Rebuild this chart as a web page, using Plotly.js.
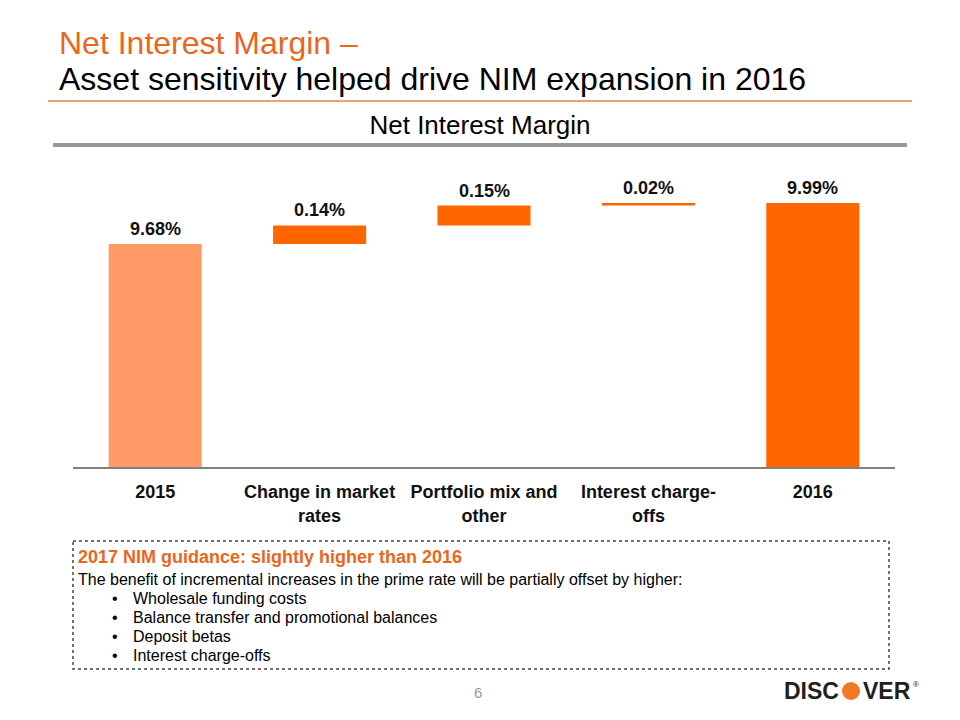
<!DOCTYPE html>
<html>
<head>
<meta charset="utf-8">
<script src="https://cdn.plot.ly/plotly-3.0.1.min.js"></script>
<style>html,body{margin:0;padding:0;background:#fff;}#chart{width:960px;height:720px;}</style>
</head>
<body>
<div id="chart"></div>
<script>
// ---- data ----
const categories = ['2015', 'Change in market<br>rates', 'Portfolio mix and<br>other', 'Interest charge-<br>offs', '2016'];
const measures = ['absolute', 'relative', 'relative', 'relative', 'total'];
const values = [9.68, 0.14, 0.15, 0.02, 9.99];
const valueLabels = ['9.68%', '0.14%', '0.15%', '0.02%', '9.99%'];
const barColors = ['#FF9966', '#FF6600', '#FF6600', '#FF6600', '#FF6600'];
const slideTitle1 = 'Net Interest Margin –';
const slideTitle2 = 'Asset sensitivity helped drive NIM expansion in 2016';
const chartTitle = 'Net Interest Margin';
const guidanceHeader = '2017 NIM guidance: slightly higher than 2016';
const guidanceIntro = 'The benefit of incremental increases in the prime rate will be partially offset by higher:';
const guidanceBullets = ['Wholesale funding costs', 'Balance transfer and promotional balances', 'Deposit betas', 'Interest charge-offs'];
const pageNumber = '6';

// ---- waterfall bases ----
const bases = [], heights = [], tops = [];
let running = 0;
values.forEach((v, i) => {
  if (measures[i] === 'relative') {
    bases.push(running); heights.push(v); running += v;
  } else {
    bases.push(0); heights.push(v); running = v;
  }
  tops.push(bases[i] + heights[i]);
});
const xs = categories.map((c, i) => i);

// ---- layout geometry (pixels) ----
const W = 960, H = 720;
const L = 73, R = 65, T = 150, B = 253;
const PW = W - L - R, PH = H - T - B;
const px = x => (x - L) / PW;
const py = y => (H - B - y) / PH;

const FONT = 'Liberation Sans, Arial, Helvetica, sans-serif';
const ORANGE_TXT = '#E8671D';

const trace = {
  type: 'bar',
  x: xs,
  y: heights,
  base: bases,
  width: 0.566,
  marker: {color: barColors, line: {width: 0}},
  hoverinfo: 'skip'
};

const annotations = [];
// value labels
xs.forEach((x, i) => {
  annotations.push({
    x: x, y: tops[i], xref: 'x', yref: 'y',
    text: valueLabels[i], showarrow: false,
    yanchor: 'bottom', yshift: 3,
    font: {family: FONT, size: 18, color: '#111', weight: 'bold'}
  });
});
// slide title lines
annotations.push({
  xref: 'paper', yref: 'paper', x: px(57), y: py(43), xanchor: 'left', yanchor: 'middle',
  text: slideTitle1, showarrow: false,
  font: {family: FONT, size: 32, color: ORANGE_TXT}
});
annotations.push({
  xref: 'paper', yref: 'paper', x: px(57), y: py(79), xanchor: 'left', yanchor: 'middle',
  text: slideTitle2, showarrow: false,
  font: {family: FONT, size: 32, color: '#000'}
});
// guidance box text
annotations.push({
  xref: 'paper', yref: 'paper', x: px(76), y: py(557), xanchor: 'left', yanchor: 'middle',
  text: guidanceHeader, showarrow: false,
  font: {family: FONT, size: 18, color: ORANGE_TXT, weight: 'bold'}
});
annotations.push({
  xref: 'paper', yref: 'paper', x: px(76), y: py(579), xanchor: 'left', yanchor: 'middle',
  text: guidanceIntro, showarrow: false,
  font: {family: FONT, size: 16, color: '#000'}
});
guidanceBullets.forEach((b, i) => {
  const yy = 598 + i * 19;
  annotations.push({
    xref: 'paper', yref: 'paper', x: px(110), y: py(yy), xanchor: 'left', yanchor: 'middle',
    text: '•', showarrow: false, font: {family: FONT, size: 16, color: '#000'}
  });
  annotations.push({
    xref: 'paper', yref: 'paper', x: px(131), y: py(yy), xanchor: 'left', yanchor: 'middle',
    text: b, showarrow: false, font: {family: FONT, size: 16, color: '#000'}
  });
});
// page number
annotations.push({
  xref: 'paper', yref: 'paper', x: px(478), y: py(692), xanchor: 'center', yanchor: 'middle',
  text: pageNumber, showarrow: false, font: {family: FONT, size: 15, color: '#999'}
});
// logo text
annotations.push({
  xref: 'paper', yref: 'paper', x: px(841), y: py(691), xanchor: 'right', yanchor: 'middle',
  text: 'DISC', showarrow: false, font: {family: FONT, size: 23, color: '#231F20', weight: 'bold'}
});
annotations.push({
  xref: 'paper', yref: 'paper', x: px(861), y: py(691), xanchor: 'left', yanchor: 'middle',
  text: 'VER', showarrow: false, font: {family: FONT, size: 23, color: '#231F20', weight: 'bold'}
});
annotations.push({
  xref: 'paper', yref: 'paper', x: px(911), y: py(684), xanchor: 'left', yanchor: 'middle',
  text: '®', showarrow: false, font: {family: FONT, size: 8, color: '#231F20'}
});

const shapes = [
  {type: 'line', xref: 'paper', yref: 'paper', x0: px(48), x1: px(912), y0: py(101), y1: py(101),
   line: {color: '#EBA173', width: 2}},
  {type: 'line', xref: 'paper', yref: 'paper', x0: px(53), x1: px(907), y0: py(145), y1: py(145),
   line: {color: '#979797', width: 4}},
  {type: 'rect', xref: 'paper', yref: 'paper', x0: px(73), x1: px(889), y0: py(541), y1: py(669),
   line: {color: '#444', width: 1.5, dash: 'dot'}, fillcolor: 'rgba(0,0,0,0)'},
  {type: 'circle', xref: 'paper', yref: 'paper', x0: px(842), x1: px(860), y0: py(682), y1: py(700),
   line: {width: 0}, fillcolor: '#F07A22'}
];

const layout = {
  width: W, height: H,
  margin: {l: L, r: R, t: T, b: B},
  paper_bgcolor: '#fff', plot_bgcolor: '#fff',
  showlegend: false,
  title: {
    text: chartTitle, xref: 'container', yref: 'container', x: 0.5, xanchor: 'center',
    y: 1 - 125 / H, yanchor: 'middle',
    font: {family: FONT, size: 26, color: '#000'}
  },
  xaxis: {
    range: [-0.5, 4.5], tickvals: xs, ticktext: categories,
    showgrid: false, zeroline: false, showline: true, linecolor: '#808080', linewidth: 1.5,
    ticks: '', ticklabelstandoff: 8,
    tickfont: {family: FONT, size: 18, color: '#111', weight: 'bold'},
    fixedrange: true
  },
  yaxis: {
    range: [8, 8 + PH / 132.7], visible: false, showgrid: false, zeroline: false, fixedrange: true
  },
  annotations: annotations,
  shapes: shapes
};

Plotly.newPlot('chart', [trace], layout, {displayModeBar: false, staticPlot: true});
</script>
</body>
</html>
